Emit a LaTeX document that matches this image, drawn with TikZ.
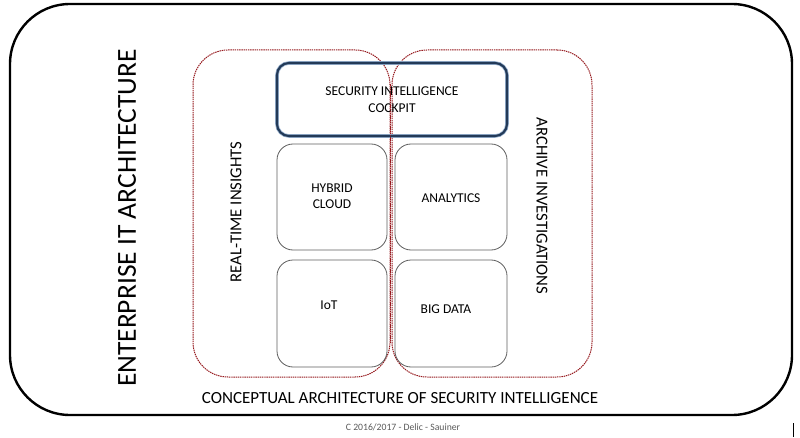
\documentclass[tikz,border=0pt]{standalone}
\usepackage{fontspec}
\setmainfont{Carlito}
\usetikzlibrary{calc}
\begin{document}
\begin{tikzpicture}[x=1pt,y=1pt,
  outerbox/.style={draw=black, line width=2.4pt, rounded corners=60pt},
  regionline/.style={draw={rgb,255:red,150;green,25;blue,30}, line width=1pt, dash pattern=on 1.4pt off 0.8pt},
  region/.style={regionline, rounded corners=35pt, minimum width=#1, minimum height=327pt, inner sep=0pt},
  boxtext/.style={font=\fontsize{13.5}{16.5}\selectfont, align=center, inner sep=0pt},
  cockpitbox/.style={preaction={draw={rgb,255:red,150;green,175;blue,205}, line width=3.6pt}, draw={rgb,255:red,35;green,58;blue,88}, line width=2.1pt, rounded corners=12pt, minimum width=230pt, minimum height=73pt, boxtext},
  tile/.style={draw={rgb,255:red,95;green,95;blue,95}, line width=0.8pt, rounded corners=16pt, minimum width=#1, minimum height=106pt, inner sep=0pt},
  sidelabel/.style={font=\fontsize{16.7}{19}\selectfont, inner sep=0pt},
]
\useasboundingbox (0,0) rectangle (800,437);
\fill[white] (0,0) rectangle (800,437);
% outer frame
\draw[outerbox] (10,433) rectangle (792,22);
% regions
\node[region=197pt] (left) at (291.5,223.5) {};
\node[region=200pt] (right) at (492,223.5) {};
% boxes
\node[cockpitbox] (cockpit) at (392,337.5) {SECURITY INTELLIGENCE\\COCKPIT};
\node[tile=110pt] (hybrid) at (332,240) {};
\node[tile=112pt] (analytics) at (451,240) {};
\node[tile=110pt, minimum height=107pt] (iot) at (332,123.5) {};
\node[tile=112pt, minimum height=107pt] (bigdata) at (451,123.5) {};
\node[boxtext] (hybridtext) at ($(hybrid)+(0,1)$) {HYBRID\\CLOUD};
\node[boxtext] (analyticstext) at ($(analytics)+(0,-1)$) {ANALYTICS};
\node[boxtext] (iottext) at ($(iot)+(-3,8.5)$) {IoT};
\node[boxtext] (bigdatatext) at ($(bigdata)+(-5,4.5)$) {BIG DATA};
% central overlap line on top
\draw[regionline] ($(left.north east)+(0,-35)$) -- ($(left.south east)+(0,35)$);
% labels
\node[font=\fontsize{27.5}{30}\selectfont, rotate=90, inner sep=0pt] (eit) at (127,219) {ENTERPRISE IT ARCHITECTURE};
\node[sidelabel, rotate=90] (rti) at (236,225) {REAL-TIME INSIGHTS};
\node[sidelabel, rotate=-90] (arch) at (542,231) {ARCHIVE INVESTIGATIONS};
\node[font=\fontsize{17}{19}\selectfont, inner sep=0pt] (concept) at (400,39) {CONCEPTUAL ARCHITECTURE OF SECURITY INTELLIGENCE};
\node[font=\fontsize{9.7}{11}\selectfont, text={rgb,255:red,90;green,90;blue,90}, inner sep=0pt] (copy) at (403,10) {C 2016/2017 - Delic - Sauiner};
% small mark at the lower right
\coordinate (m1) at (793.5,0);
\coordinate (m2) at (793.5,14);
\draw[line width=1.6pt] (m1) -- (m2);
\end{tikzpicture}
\end{document}
